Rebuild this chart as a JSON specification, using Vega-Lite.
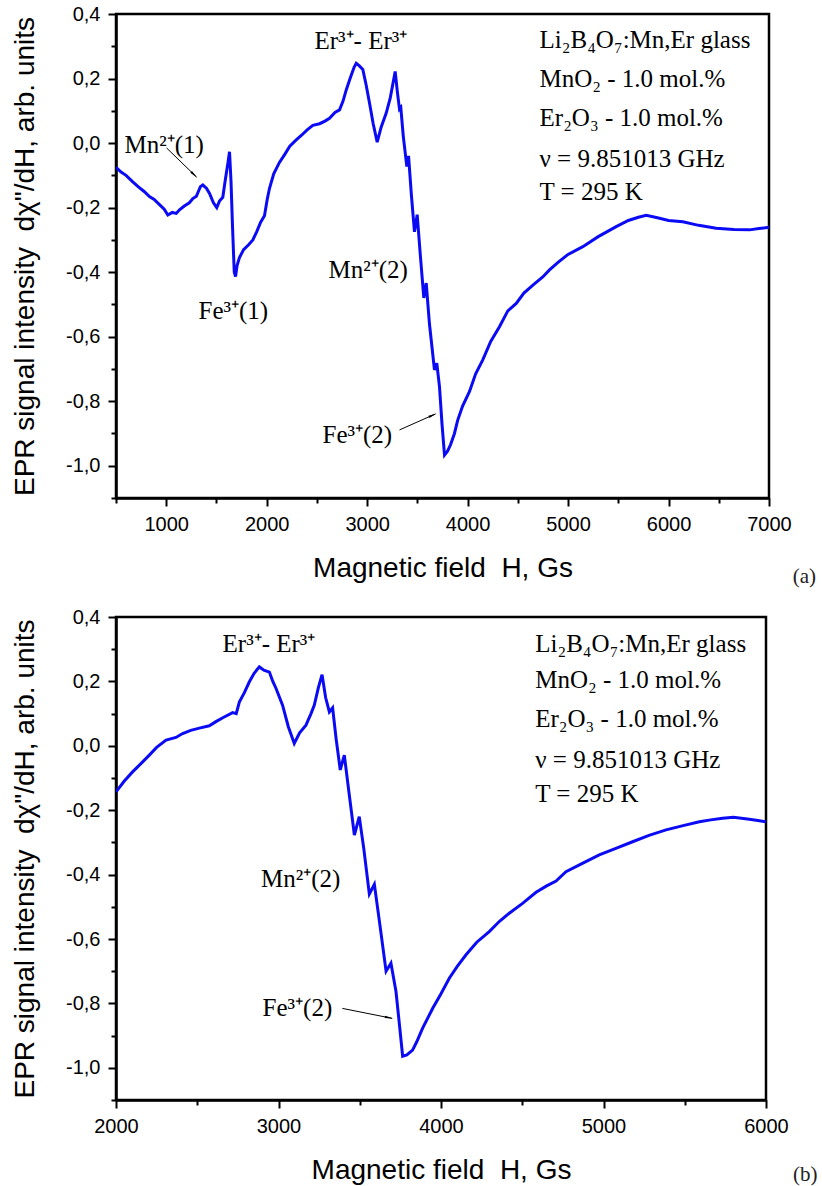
{
  "$schema": "https://vega.github.io/schema/vega-lite/v6.json",
  "background": "white",
  "padding": {"left": 10, "top": 2, "right": 4, "bottom": 0},
  "spacing": 16,
  "config": {
    "view": {"stroke": "black", "strokeWidth": 2.5},
    "axis": {
      "domainColor": "black", "domainWidth": 2.5,
      "tickColor": "black", "tickWidth": 2,
      "labelFont": "Liberation Sans", "labelFontSize": 20, "labelColor": "black",
      "titleFont": "Liberation Sans", "titleFontSize": 28, "titleFontWeight": "normal", "titleColor": "black",
      "grid": false, "labelPadding": 8, "titlePadding": 20, "labelOverlap": false, "labelFlush": false
    },
    "axisY": {"titlePadding": 26}
  },
  "datasets": {
    "a": [
      {"H":500,"v":-0.075},{"H":550,"v":-0.09},{"H":600,"v":-0.1},{"H":667,"v":-0.12},{"H":720,"v":-0.135},
      {"H":780,"v":-0.15},{"H":833,"v":-0.166},{"H":880,"v":-0.175},{"H":930,"v":-0.19},{"H":980,"v":-0.205},
      {"H":1016,"v":-0.223},{"H":1060,"v":-0.215},{"H":1100,"v":-0.218},{"H":1132,"v":-0.207},{"H":1180,"v":-0.195},
      {"H":1230,"v":-0.185},{"H":1265,"v":-0.172},{"H":1300,"v":-0.165},{"H":1340,"v":-0.135},{"H":1364,"v":-0.13},
      {"H":1400,"v":-0.14},{"H":1431,"v":-0.156},{"H":1470,"v":-0.185},{"H":1503,"v":-0.2},{"H":1530,"v":-0.18},
      {"H":1563,"v":-0.168},{"H":1590,"v":-0.11},{"H":1615,"v":-0.06},{"H":1630,"v":-0.027},{"H":1645,"v":-0.12},
      {"H":1660,"v":-0.26},{"H":1677,"v":-0.4},{"H":1690,"v":-0.414},{"H":1705,"v":-0.38},{"H":1729,"v":-0.355},
      {"H":1770,"v":-0.33},{"H":1820,"v":-0.315},{"H":1862,"v":-0.3},{"H":1900,"v":-0.275},{"H":1940,"v":-0.245},
      {"H":1978,"v":-0.225},{"H":2005,"v":-0.175},{"H":2028,"v":-0.14},{"H":2070,"v":-0.095},{"H":2127,"v":-0.06},
      {"H":2180,"v":-0.035},{"H":2230,"v":-0.01},{"H":2294,"v":0.01},{"H":2350,"v":0.025},{"H":2400,"v":0.04},
      {"H":2459,"v":0.055},{"H":2526,"v":0.06},{"H":2580,"v":0.068},{"H":2625,"v":0.077},{"H":2680,"v":0.095},
      {"H":2725,"v":0.103},{"H":2760,"v":0.13},{"H":2791,"v":0.164},{"H":2830,"v":0.2},{"H":2870,"v":0.235},
      {"H":2891,"v":0.247},{"H":2920,"v":0.24},{"H":2957,"v":0.228},{"H":2990,"v":0.18},{"H":3023,"v":0.125},
      {"H":3060,"v":0.06},{"H":3100,"v":0.003},{"H":3140,"v":0.05},{"H":3189,"v":0.092},{"H":3230,"v":0.14},
      {"H":3279,"v":0.222},{"H":3300,"v":0.16},{"H":3322,"v":0.105},{"H":3335,"v":0.11},{"H":3360,"v":0.02},
      {"H":3395,"v":-0.073},{"H":3412,"v":-0.04},{"H":3440,"v":-0.16},{"H":3471,"v":-0.275},{"H":3498,"v":-0.222},
      {"H":3530,"v":-0.35},{"H":3564,"v":-0.48},{"H":3588,"v":-0.434},{"H":3620,"v":-0.56},{"H":3670,"v":-0.703},
      {"H":3693,"v":-0.682},{"H":3720,"v":-0.755},{"H":3745,"v":-0.87},{"H":3770,"v":-0.967},{"H":3800,"v":-0.955},
      {"H":3830,"v":-0.935},{"H":3869,"v":-0.9},{"H":3900,"v":-0.86},{"H":3950,"v":-0.815},{"H":4019,"v":-0.77},
      {"H":4080,"v":-0.715},{"H":4151,"v":-0.672},{"H":4230,"v":-0.615},{"H":4317,"v":-0.569},{"H":4400,"v":-0.52},
      {"H":4484,"v":-0.497},{"H":4560,"v":-0.465},{"H":4650,"v":-0.44},{"H":4748,"v":-0.415},{"H":4815,"v":-0.393},
      {"H":4900,"v":-0.37},{"H":5000,"v":-0.345},{"H":5147,"v":-0.321},{"H":5300,"v":-0.29},{"H":5479,"v":-0.259},
      {"H":5600,"v":-0.24},{"H":5700,"v":-0.23},{"H":5778,"v":-0.224},{"H":5900,"v":-0.232},{"H":6000,"v":-0.24},
      {"H":6142,"v":-0.244},{"H":6300,"v":-0.255},{"H":6474,"v":-0.264},{"H":6650,"v":-0.268},{"H":6806,"v":-0.269},
      {"H":6900,"v":-0.265},{"H":7000,"v":-0.261}
    ],
    "b": [
      {"H":2000,"v":-0.143},{"H":2050,"v":-0.11},{"H":2102,"v":-0.081},{"H":2164,"v":-0.05},{"H":2205,"v":-0.029},
      {"H":2250,"v":-0.005},{"H":2308,"v":0.018},{"H":2369,"v":0.026},{"H":2410,"v":0.038},{"H":2460,"v":0.048},
      {"H":2513,"v":0.055},{"H":2574,"v":0.062},{"H":2615,"v":0.075},{"H":2660,"v":0.088},{"H":2718,"v":0.103},
      {"H":2740,"v":0.1},{"H":2759,"v":0.136},{"H":2790,"v":0.165},{"H":2820,"v":0.198},{"H":2850,"v":0.225},
      {"H":2882,"v":0.245},{"H":2910,"v":0.235},{"H":2944,"v":0.229},{"H":2965,"v":0.2},{"H":2985,"v":0.178},
      {"H":3025,"v":0.126},{"H":3060,"v":0.06},{"H":3097,"v":0.007},{"H":3130,"v":0.04},{"H":3169,"v":0.064},
      {"H":3200,"v":0.1},{"H":3220,"v":0.126},{"H":3245,"v":0.18},{"H":3268,"v":0.221},{"H":3290,"v":0.15},
      {"H":3313,"v":0.105},{"H":3333,"v":0.118},{"H":3355,"v":0.02},{"H":3380,"v":-0.075},{"H":3405,"v":-0.029},
      {"H":3435,"v":-0.15},{"H":3467,"v":-0.277},{"H":3497,"v":-0.22},{"H":3525,"v":-0.32},{"H":3559,"v":-0.46},
      {"H":3590,"v":-0.43},{"H":3625,"v":-0.56},{"H":3662,"v":-0.7},{"H":3692,"v":-0.675},{"H":3723,"v":-0.763},
      {"H":3745,"v":-0.87},{"H":3764,"v":-0.964},{"H":3790,"v":-0.96},{"H":3825,"v":-0.945},{"H":3850,"v":-0.92},
      {"H":3887,"v":-0.877},{"H":3949,"v":-0.815},{"H":4000,"v":-0.77},{"H":4051,"v":-0.722},{"H":4100,"v":-0.685},
      {"H":4154,"v":-0.649},{"H":4220,"v":-0.61},{"H":4297,"v":-0.577},{"H":4360,"v":-0.545},{"H":4420,"v":-0.52},
      {"H":4500,"v":-0.49},{"H":4585,"v":-0.455},{"H":4650,"v":-0.435},{"H":4708,"v":-0.42},{"H":4769,"v":-0.391},
      {"H":4870,"v":-0.365},{"H":4974,"v":-0.339},{"H":5080,"v":-0.318},{"H":5179,"v":-0.298},{"H":5280,"v":-0.278},
      {"H":5385,"v":-0.261},{"H":5490,"v":-0.248},{"H":5590,"v":-0.236},{"H":5660,"v":-0.23},{"H":5733,"v":-0.225},
      {"H":5800,"v":-0.222},{"H":5897,"v":-0.228},{"H":5950,"v":-0.232},{"H":6000,"v":-0.236}
    ],
    "annA": [
      {"H":585,"v":-0.031,"label":"Mn²⁺(1)"},
      {"H":2476,"v":0.292,"label":"Er³⁺- Er³⁺"},
      {"H":2615,"v":-0.418,"label":"Mn²⁺(2)"},
      {"H":1321,"v":-0.545,"label":"Fe³⁺(1)"},
      {"H":2556,"v":-0.929,"label":"Fe³⁺(2)"},
      {"H":4716,"v":0.294,"label":"Li₂B₄O₇:Mn,Er glass"},
      {"H":4716,"v":0.173,"label":"MnO₂ - 1.0 mol.%"},
      {"H":4716,"v":0.053,"label":"Er₂O₃ - 1.0 mol.%"},
      {"H":4716,"v":-0.075,"label":"ν = 9.851013 GHz"},
      {"H":4716,"v":-0.176,"label":"T = 295 K"}
    ],
    "annB": [
      {"H":2656,"v":0.291,"label":"Er³⁺- Er³⁺"},
      {"H":2892,"v":-0.437,"label":"Mn²⁺(2)"},
      {"H":2902,"v":-0.84,"label":"Fe³⁺(2)"},
      {"H":4580,"v":0.291,"label":"Li₂B₄O₇:Mn,Er glass"},
      {"H":4580,"v":0.178,"label":"MnO₂ - 1.0 mol.%"},
      {"H":4580,"v":0.059,"label":"Er₂O₃ - 1.0 mol.%"},
      {"H":4580,"v":-0.07,"label":"ν = 9.851013 GHz"},
      {"H":4580,"v":-0.174,"label":"T = 295 K"}
    ],
    "arrA": [
      {"id":"mn1","H":1003,"v":-0.015,"H2":1301,"v2":-0.105},
      {"id":"fe2","H":3322,"v":-0.889,"H2":3680,"v2":-0.8395}
    ],
    "headA": [
      {"id":"mn1","H":1268,"v":-0.095},
      {"id":"fe2","H":3640,"v":-0.845}
    ],
    "arrB": [
      {"id":"fe2","H":3393,"v":-0.8155,"H2":3700,"v2":-0.8465}
    ],
    "headB": [
      {"id":"fe2","H":3672,"v":-0.8435}
    ],
    "tagA": [{"H":7353,"v":-1.345,"label":"(a)"}],
    "tagB": [{"H":6242,"v":-1.333,"label":"(b)"}]
  },
  "vconcat": [
    {
      "width": 653,
      "height": 484,
      "encoding": {
        "x": {"field": "H", "type": "quantitative",
          "scale": {"domain": [500, 7000], "nice": false, "zero": false},
          "axis": {"title": "Magnetic field\u00a0 H, Gs",
            "values": [500,1000,1500,2000,2500,3000,3500,4000,4500,5000,5500,6000,6500,7000],
            "tickSize": {"condition": {"test": "datum.value % 1000 == 0", "value": 8}, "value": 5},
            "labelExpr": "datum.value % 1000 == 0 ? format(datum.value, 'd') : ''"}},
        "y": {"field": "v", "type": "quantitative",
          "scale": {"domain": [-1.1, 0.4], "nice": false, "zero": false},
          "axis": {"title": "EPR signal intensity\u00a0 dχ\"/dH, arb. units",
            "values": [-1.1,-1.0,-0.9,-0.8,-0.7,-0.6,-0.5,-0.4,-0.3,-0.2,-0.1,0,0.1,0.2,0.3,0.4],
            "tickSize": {"condition": {"test": "abs(round(datum.value*10)) % 2 == 0", "value": 8}, "value": 5},
            "labelExpr": "abs(round(datum.value*10)) % 2 == 1 ? '' : (datum.value < -0.001 ? '-' : '') + replace(format(abs(datum.value), '.1f'), '.', ',')"}}
      },
      "layer": [
        {
          "data": {"name": "a"},
          "mark": {"type": "line", "color": "#0a0af5", "strokeWidth": 3, "clip": true}
        },
        {
          "data": {"name": "annA"},
          "mark": {"type": "text", "font": "Liberation Serif", "fontSize": 25, "align": "left", "baseline": "alphabetic", "color": "black"},
          "encoding": {"text": {"field": "label"}}
        },
        {
          "data": {"name": "tagA"},
          "mark": {"type": "text", "font": "Liberation Serif", "fontSize": 21, "align": "center", "baseline": "middle", "color": "#222222"},
          "encoding": {"text": {"field": "label"}}
        },
        {
          "data": {"name": "arrA"},
          "mark": {"type": "rule", "color": "black", "strokeWidth": 1},
          "encoding": {"x2": {"field": "H2"}, "y2": {"field": "v2"}}
        },
        {
          "data": {"name": "headA"},
          "transform": [{"filter": "datum.id == 'mn1'"}],
          "mark": {"type": "point", "shape": "wedge", "size": 95, "filled": true, "color": "black", "opacity": 1, "angle": 134}
        },
        {
          "data": {"name": "headA"},
          "transform": [{"filter": "datum.id == 'fe2'"}],
          "mark": {"type": "point", "shape": "wedge", "size": 95, "filled": true, "color": "black", "opacity": 1, "angle": 66}
        }
      ]
    },
    {
      "width": 650,
      "height": 483,
      "encoding": {
        "x": {"field": "H", "type": "quantitative",
          "scale": {"domain": [2000, 6000], "nice": false, "zero": false},
          "axis": {"title": "Magnetic field\u00a0 H, Gs",
            "values": [2000,2500,3000,3500,4000,4500,5000,5500,6000],
            "tickSize": {"condition": {"test": "datum.value % 1000 == 0", "value": 8}, "value": 5},
            "labelExpr": "datum.value % 1000 == 0 ? format(datum.value, 'd') : ''"}},
        "y": {"field": "v", "type": "quantitative",
          "scale": {"domain": [-1.1, 0.4], "nice": false, "zero": false},
          "axis": {"title": "EPR signal intensity\u00a0 dχ\"/dH, arb. units",
            "values": [-1.1,-1.0,-0.9,-0.8,-0.7,-0.6,-0.5,-0.4,-0.3,-0.2,-0.1,0,0.1,0.2,0.3,0.4],
            "tickSize": {"condition": {"test": "abs(round(datum.value*10)) % 2 == 0", "value": 8}, "value": 5},
            "labelExpr": "abs(round(datum.value*10)) % 2 == 1 ? '' : (datum.value < -0.001 ? '-' : '') + replace(format(abs(datum.value), '.1f'), '.', ',')"}}
      },
      "layer": [
        {
          "data": {"name": "b"},
          "mark": {"type": "line", "color": "#0a0af5", "strokeWidth": 3, "clip": true}
        },
        {
          "data": {"name": "annB"},
          "mark": {"type": "text", "font": "Liberation Serif", "fontSize": 25, "align": "left", "baseline": "alphabetic", "color": "black"},
          "encoding": {"text": {"field": "label"}}
        },
        {
          "data": {"name": "tagB"},
          "mark": {"type": "text", "font": "Liberation Serif", "fontSize": 21, "align": "center", "baseline": "middle", "color": "#222222"},
          "encoding": {"text": {"field": "label"}}
        },
        {
          "data": {"name": "arrB"},
          "mark": {"type": "rule", "color": "black", "strokeWidth": 1},
          "encoding": {"x2": {"field": "H2"}, "y2": {"field": "v2"}}
        },
        {
          "data": {"name": "headB"},
          "mark": {"type": "point", "shape": "wedge", "size": 95, "filled": true, "color": "black", "opacity": 1, "angle": 101}
        }
      ]
    }
  ]
}
